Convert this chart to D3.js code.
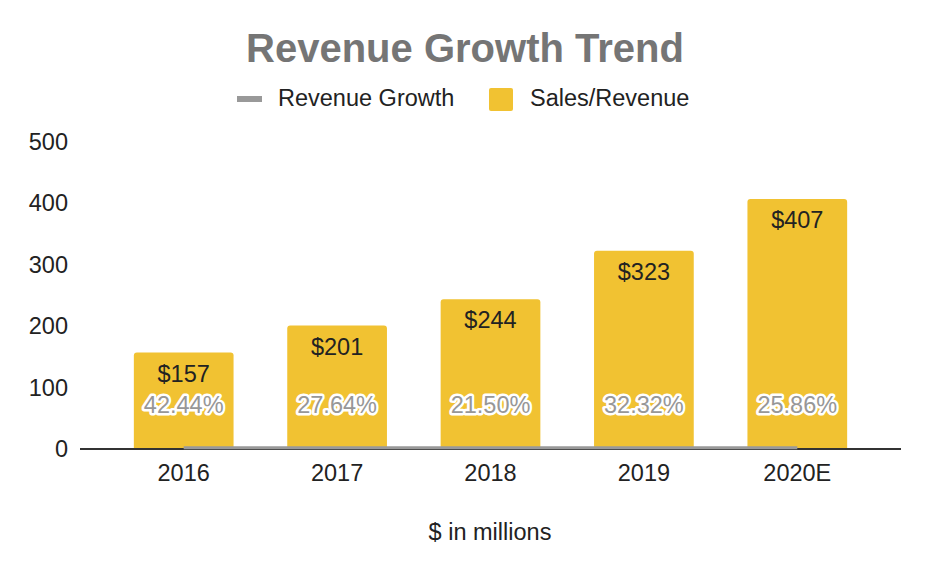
<!DOCTYPE html>
<html>
<head>
<meta charset="utf-8">
<script src="https://cdn.jsdelivr.net/npm/d3@7"></script>
<style>
  body { margin: 0; background: #fff; }
  text { font-family: "Liberation Sans", Arial, sans-serif; }
</style>
</head>
<body>
<div id="chart"></div>
<script>
// chart data
var years = ["2016", "2017", "2018", "2019", "2020E"];
var sales = [157, 201, 244, 323, 407];
var growth = [0.4244, 0.2764, 0.2150, 0.3232, 0.2586];
var yTicks = [0, 100, 200, 300, 400, 500];

var svgWidth = 930;
var svgHeight = 574;
var fontSize = 23.5;

var svg = d3.select("#chart")
  .append("svg")
  .attr("width", svgWidth)
  .attr("height", svgHeight);

// plot area
var plot = { left: 80, right: 901, top: 142, bottom: 449 };

var xScale = d3.scaleBand()
  .domain(years)
  .range([107, 874])
  .paddingInner(0.35)
  .paddingOuter(0.175);

var yScale = d3.scaleLinear()
  .domain([0, 500])
  .range([plot.bottom, plot.top]);

// title
svg.append("text")
  .attr("x", svgWidth / 2)
  .attr("y", 62)
  .attr("text-anchor", "middle")
  .attr("font-size", 40)
  .attr("font-weight", "bold")
  .attr("fill", "#757575")
  .text("Revenue Growth Trend");

// legend
var legend = svg.append("g");
legend.append("rect")
  .attr("x", 237).attr("y", 96)
  .attr("width", 25).attr("height", 6)
  .attr("fill", "#999999");
legend.append("text")
  .attr("x", 278).attr("y", 106)
  .attr("font-size", fontSize)
  .attr("fill", "#222")
  .text("Revenue Growth");
legend.append("rect")
  .attr("x", 489).attr("y", 88)
  .attr("width", 24).attr("height", 23)
  .attr("rx", 2)
  .attr("fill", "#F1C232");
legend.append("text")
  .attr("x", 530).attr("y", 106)
  .attr("font-size", fontSize)
  .attr("fill", "#222")
  .text("Sales/Revenue");

// y axis (labels only)
var leftAxis = d3.axisLeft(yScale)
  .tickValues(yTicks)
  .tickSize(0)
  .tickPadding(0);

var yAxis = svg.append("g")
  .attr("transform", "translate(68,0)")
  .call(leftAxis);
yAxis.select(".domain").remove();
yAxis.selectAll("text")
  .attr("font-size", fontSize)
  .attr("font-family", "Liberation Sans, Arial, sans-serif")
  .attr("fill", "#222");

// bars with rounded top corners
function barPath(x, y, w, h, r) {
  return "M" + x + "," + (y + h) +
    "V" + (y + r) +
    "Q" + x + "," + y + " " + (x + r) + "," + y +
    "H" + (x + w - r) +
    "Q" + (x + w) + "," + y + " " + (x + w) + "," + (y + r) +
    "V" + (y + h) + "Z";
}

svg.append("g")
  .selectAll("path")
  .data(sales)
  .enter()
  .append("path")
  .attr("d", (d, i) => barPath(xScale(years[i]), yScale(d), xScale.bandwidth(), yScale(0) - yScale(d), 3))
  .attr("fill", "#F1C232");

// bar labels
svg.append("g")
  .selectAll("text")
  .data(sales)
  .enter()
  .append("text")
  .attr("x", (d, i) => xScale(years[i]) + xScale.bandwidth() / 2)
  .attr("y", d => yScale(d) + 29)
  .attr("text-anchor", "middle")
  .attr("font-size", fontSize)
  .attr("fill", "#222")
  .text(d => "$" + d);

// x axis line
svg.append("line")
  .attr("x1", plot.left).attr("x2", plot.right)
  .attr("y1", plot.bottom).attr("y2", plot.bottom)
  .attr("stroke", "#333")
  .attr("stroke-width", 2);

// revenue growth line
var line = d3.line()
  .x((d, i) => xScale(years[i]) + xScale.bandwidth() / 2)
  .y(d => yScale(d) - 1);

svg.append("path")
  .datum(growth)
  .attr("d", line)
  .attr("fill", "none")
  .attr("stroke", "#999999")
  .attr("stroke-width", 3);

// growth labels
svg.append("g")
  .selectAll("text")
  .data(growth)
  .enter()
  .append("text")
  .attr("x", (d, i) => xScale(years[i]) + xScale.bandwidth() / 2)
  .attr("y", d => yScale(d) - 36)
  .attr("text-anchor", "middle")
  .attr("font-size", fontSize)
  .attr("fill", "#979797")
  .attr("stroke", "#ffffff")
  .attr("stroke-width", 5)
  .attr("stroke-linejoin", "round")
  .attr("paint-order", "stroke")
  .text(d => (d * 100).toFixed(2) + "%");

// x tick labels
svg.append("g")
  .selectAll("text")
  .data(years)
  .enter()
  .append("text")
  .attr("x", d => xScale(d) + xScale.bandwidth() / 2)
  .attr("y", 481)
  .attr("text-anchor", "middle")
  .attr("font-size", fontSize)
  .attr("fill", "#222")
  .text(d => d);

// x axis title
svg.append("text")
  .attr("x", 490)
  .attr("y", 540)
  .attr("text-anchor", "middle")
  .attr("font-size", fontSize)
  .attr("fill", "#222")
  .text("$ in millions");
</script>
</body>
</html>
